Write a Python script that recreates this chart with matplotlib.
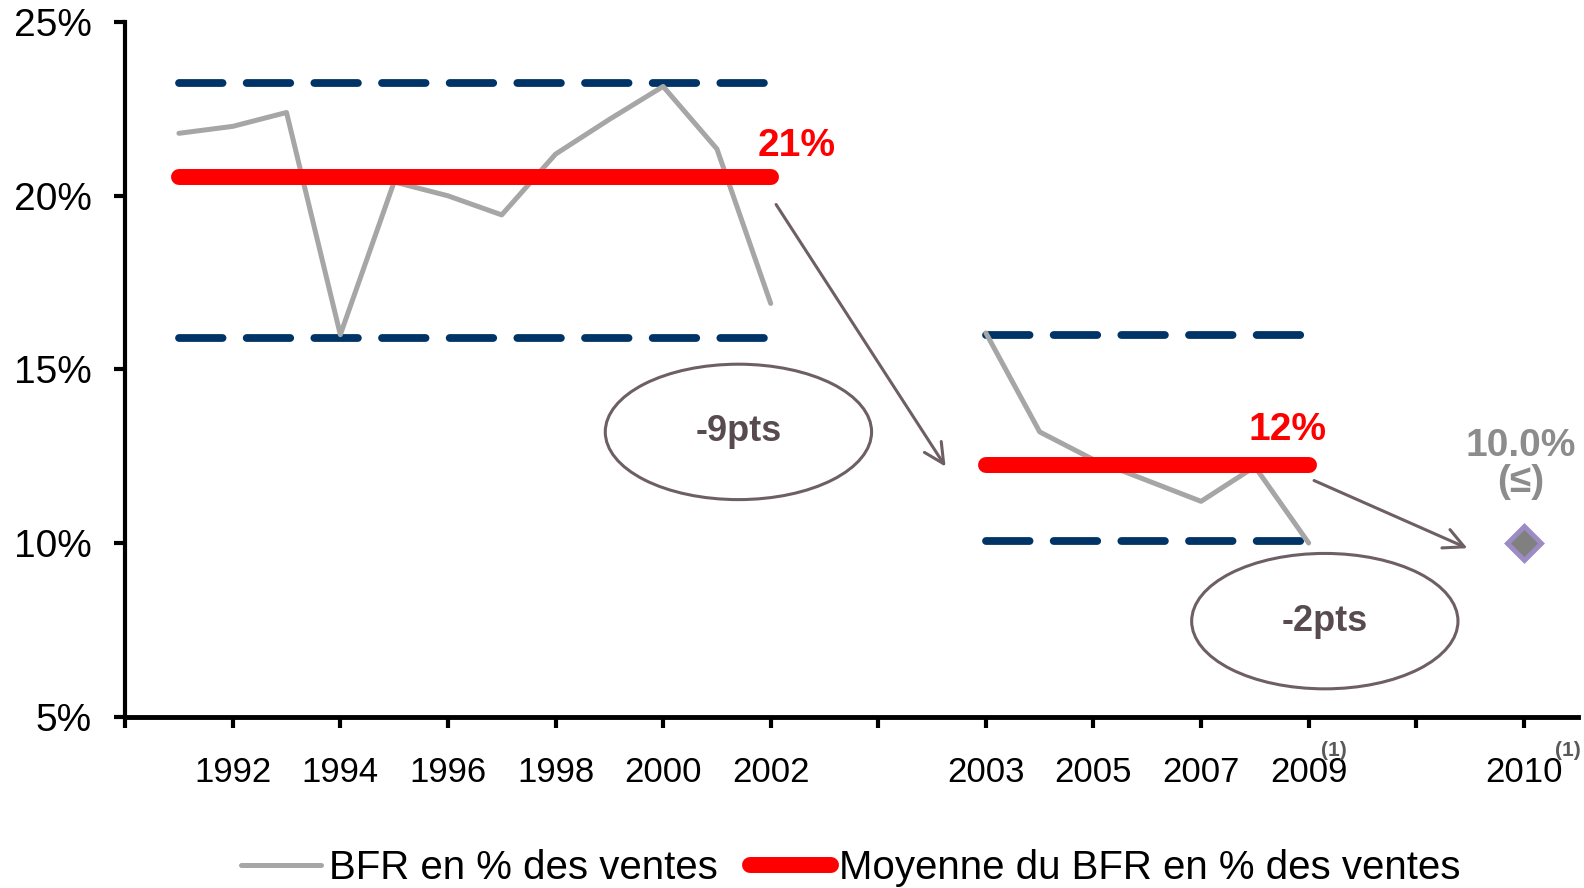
import matplotlib.pyplot as plt
from matplotlib.patches import Ellipse

plt.rcParams['font.family'] = ['Liberation Sans', 'DejaVu Sans']

# positions on the category axis (gaps between the two periods and 2010)
years_p1 = [1991, 1992, 1993, 1994, 1995, 1996, 1997, 1998, 1999, 2000, 2001, 2002]
years_p2 = [2003, 2004, 2005, 2006, 2007, 2008, 2009]
pos_p1 = [1, 2, 3, 4, 5, 6, 7, 8, 9, 10, 11, 12]
pos_p2 = [16, 17, 18, 19, 20, 21, 22]
pos_2010 = 26

bfr_p1 = [21.8, 22.0, 22.4, 16.0, 20.4, 20.0, 19.45, 21.2, 22.2, 23.15, 21.35, 16.9]
bfr_p2 = [16.05, 13.2, 12.4, 11.8, 11.2, 12.2, 10.0]
bfr_2010 = 10.0

mean_p1 = 20.55
mean_p2 = 12.25
band_p1 = [23.25, 15.9]
band_p2 = [16.0, 10.05]

tick_pos = [0, 2, 4, 6, 8, 10, 12, 14, 16, 18, 20, 22, 24, 26]
tick_labels = ['', '1992', '1994', '1996', '1998', '2000', '2002', '',
               '2003', '2005', '2007', '2009', '', '2010']

gray = '#A6A6A6'
navy = '#003366'
red = '#FF0000'
brown = '#6E5F65'

fig = plt.figure(figsize=(15.84, 8.88), dpi=100)
ax = fig.add_axes([0.079, 0.193, 0.917, 0.782])

# dashed min / max bands
for pos, band in [(pos_p1, band_p1), (pos_p2, band_p2)]:
    for v in band:
        ax.plot([pos[0], pos[-1]], [v, v], color=navy, lw=5.6,
                dashes=(5.6, 3.1), dash_capstyle='round', zorder=2)

ax.plot(pos_p1, bfr_p1, color=gray, lw=3.6, solid_capstyle='round',
        label='BFR en % des ventes', zorder=3)
ax.plot(pos_p2, bfr_p2, color=gray, lw=3.6, solid_capstyle='round', zorder=3)

ax.plot([pos_p1[0], pos_p1[-1]], [mean_p1, mean_p1], color=red, lw=11.5,
        solid_capstyle='round', label='Moyenne du BFR en % des ventes', zorder=4)
ax.plot([pos_p2[0], pos_p2[-1]], [mean_p2, mean_p2], color=red, lw=11.5,
        solid_capstyle='round', zorder=4)

ax.plot([pos_2010], [bfr_2010], marker='D', ms=17, mfc='#808080',
        mec='#9C8CC4', mew=3.5, ls='none', zorder=5)

# labels
ax.annotate('%d%%' % round(mean_p1), (pos_p1[-1], mean_p1), xytext=(19, 9),
            textcoords='offset points', ha='center', va='bottom',
            color=red, fontsize=28, fontweight='bold')
ax.annotate('%d%%' % round(mean_p2), (pos_p2[-1], mean_p2), xytext=(-15, 12),
            textcoords='offset points', ha='center', va='bottom',
            color=red, fontsize=28, fontweight='bold')
ax.annotate('%.1f%%\n(≤)' % bfr_2010, (pos_2010, bfr_2010), xytext=(-2, 31),
            textcoords='offset points', ha='center', va='bottom',
            color='#8C8C8C', fontsize=28, fontweight='bold', linespacing=1.0)

# arrows between periods
ax.annotate('', xy=(15.25, 12.2), xytext=(12.1, 19.75),
            arrowprops=dict(arrowstyle='->', color=brown, lw=2.2,
                            mutation_scale=36, shrinkA=0, shrinkB=0))
ax.annotate('', xy=(24.95, 9.85), xytext=(22.1, 11.8),
            arrowprops=dict(arrowstyle='->', color=brown, lw=2.2,
                            mutation_scale=36, shrinkA=0, shrinkB=0))

for cx, cy, txt in [(11.4, 13.2, '-9pts'), (22.3, 7.75, '-2pts')]:
    ax.add_patch(Ellipse((cx, cy), 4.95, 3.9, fill=False, ec=brown, lw=2.2,
                         zorder=6))
    ax.text(cx, cy, txt, ha='center', va='center', color='#584B50',
            fontsize=26, fontweight='bold', zorder=7)

ax.set_xlim(0, 27)
ax.set_ylim(5, 25)
ax.set_yticks([5, 10, 15, 20, 25])
ax.set_yticklabels(['5%', '10%', '15%', '20%', '25%'])
ax.set_xticks(tick_pos)
ax.set_xticklabels(tick_labels)
ax.tick_params(axis='y', labelsize=28, width=3, length=8, pad=16)
ax.tick_params(axis='x', labelsize=25, width=3, length=8, pad=20)

# "(1)" footnote marks on 2009 and 2010
for p, dx in [(22, 18), (26, 32)]:
    ax.annotate('(1)', (p, 5), xytext=(dx, -31), textcoords='offset points',
                ha='center', va='bottom', fontsize=15, fontweight='bold',
                color='#595959', annotation_clip=False)

ax.spines['top'].set_visible(False)
ax.spines['right'].set_visible(False)
ax.spines['left'].set_linewidth(3)
ax.spines['bottom'].set_linewidth(3.5)

fig.legend(loc='center', bbox_to_anchor=(0.537, 0.022), ncol=2, frameon=False,
           fontsize=29, handlelength=2.0, handletextpad=0.2, columnspacing=0.8)

fig.savefig('out.png', dpi=100)
